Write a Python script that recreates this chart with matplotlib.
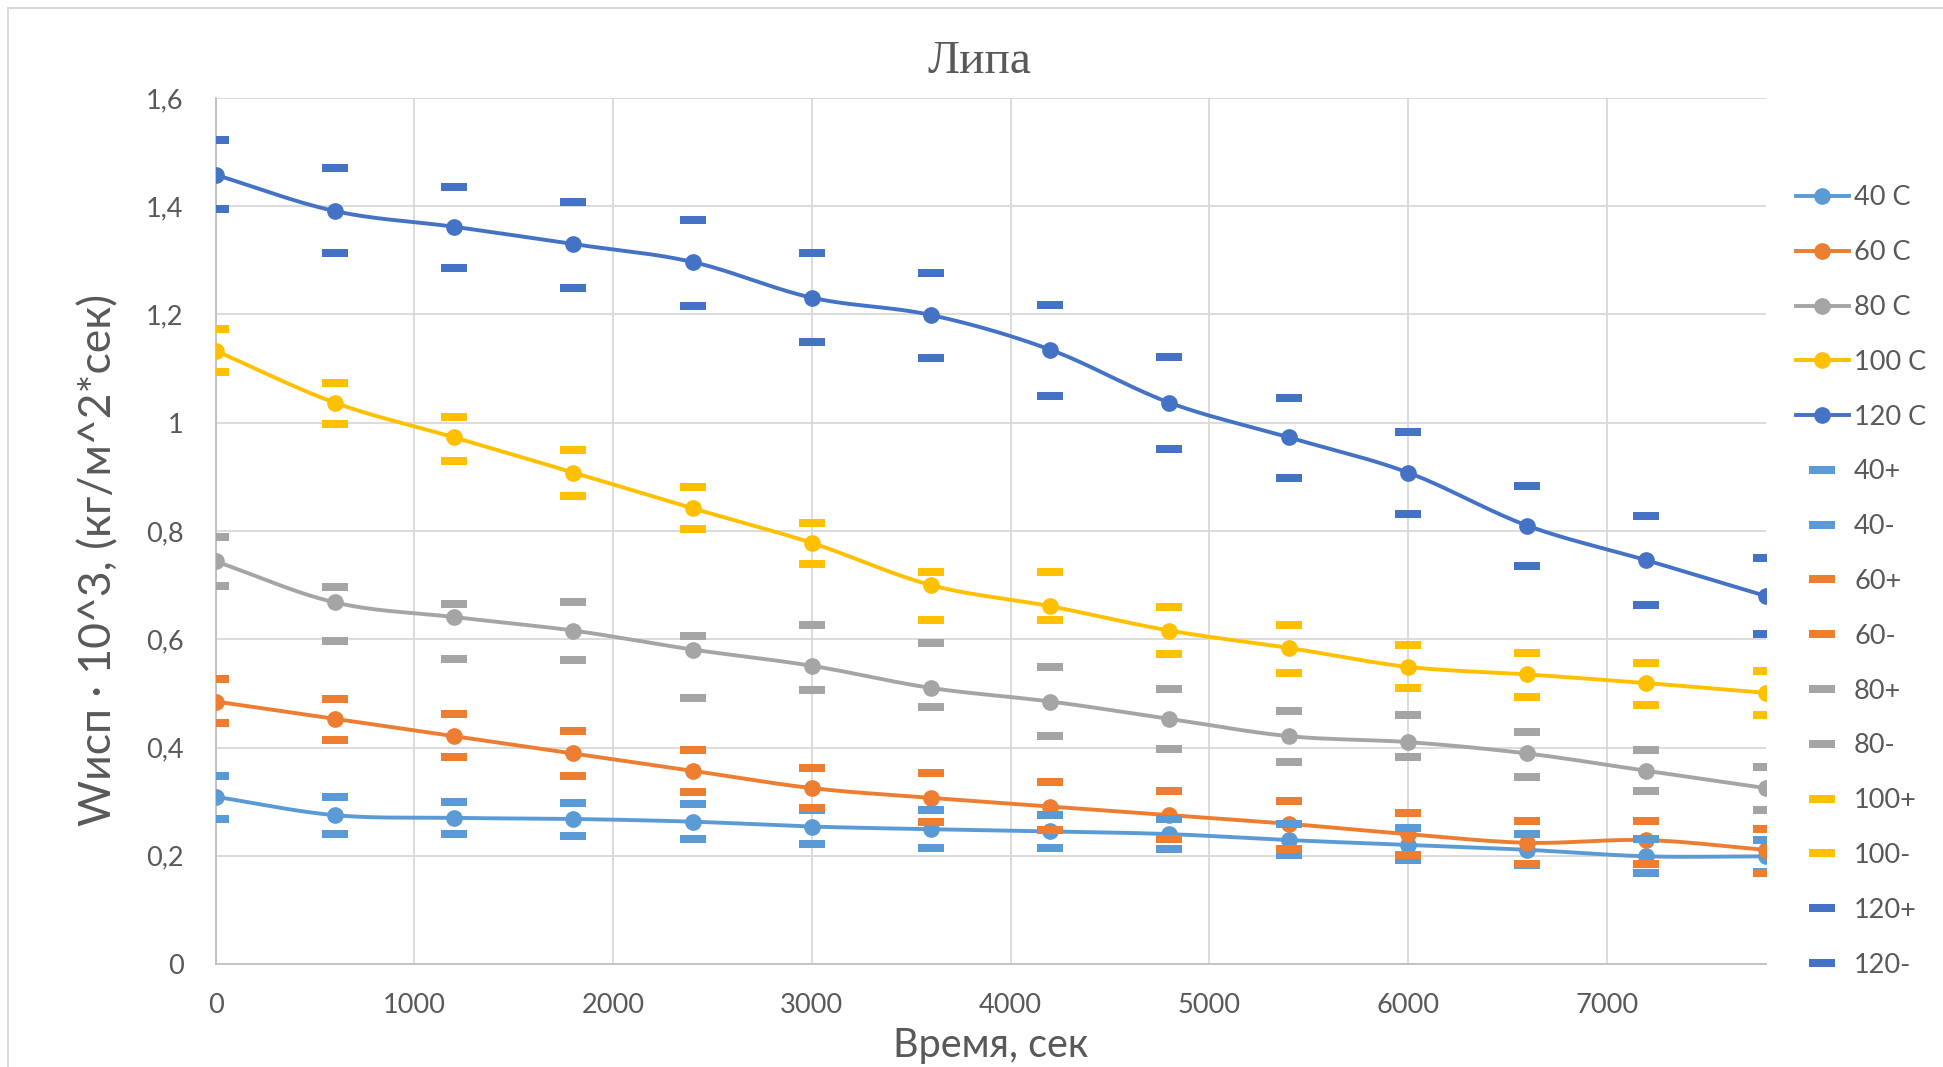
import numpy as np
import matplotlib.pyplot as plt
from matplotlib.patches import Rectangle
from matplotlib.ticker import FuncFormatter

# время, сек
t = [0, 600, 1200, 1800, 2400, 3000, 3600, 4200, 4800, 5400, 6000, 6600, 7200, 7800]

# средние значения
w40 = [0.309, 0.275, 0.270, 0.268, 0.263, 0.254, 0.249, 0.245, 0.240, 0.229, 0.220, 0.211, 0.199, 0.199]
w60 = [0.485, 0.453, 0.421, 0.389, 0.357, 0.325, 0.307, 0.291, 0.275, 0.259, 0.240, 0.224, 0.229, 0.211]
w80 = [0.744, 0.668, 0.641, 0.616, 0.581, 0.551, 0.510, 0.485, 0.453, 0.421, 0.410, 0.389, 0.357, 0.325]
w100 = [1.133, 1.037, 0.973, 0.908, 0.842, 0.778, 0.700, 0.661, 0.616, 0.584, 0.549, 0.535, 0.519, 0.501]
w120 = [1.458, 1.391, 1.362, 1.330, 1.297, 1.231, 1.199, 1.135, 1.037, 0.973, 0.908, 0.810, 0.746, 0.680]

# верхние / нижние границы
w40p = [0.348, 0.309, 0.300, 0.297, 0.295, 0.284, 0.284, 0.275, 0.268, 0.259, 0.252, 0.240, 0.231, 0.229]
w40m = [0.268, 0.240, 0.240, 0.236, 0.231, 0.222, 0.215, 0.215, 0.213, 0.201, 0.192, 0.183, 0.169, 0.170]
w60p = [0.526, 0.490, 0.462, 0.430, 0.396, 0.362, 0.352, 0.336, 0.320, 0.302, 0.279, 0.265, 0.265, 0.249]
w60m = [0.446, 0.414, 0.382, 0.348, 0.318, 0.288, 0.263, 0.247, 0.231, 0.213, 0.201, 0.185, 0.185, 0.169]
w80p = [0.789, 0.696, 0.666, 0.668, 0.606, 0.627, 0.593, 0.549, 0.508, 0.467, 0.460, 0.428, 0.396, 0.364]
w80m = [0.698, 0.597, 0.563, 0.561, 0.492, 0.506, 0.474, 0.421, 0.398, 0.373, 0.382, 0.346, 0.320, 0.284]
w100p = [1.174, 1.073, 1.011, 0.950, 0.881, 0.815, 0.725, 0.725, 0.659, 0.627, 0.590, 0.574, 0.556, 0.542]
w100m = [1.094, 0.998, 0.929, 0.865, 0.803, 0.739, 0.636, 0.636, 0.572, 0.538, 0.510, 0.494, 0.478, 0.460]
w120p = [1.522, 1.471, 1.435, 1.407, 1.375, 1.314, 1.277, 1.217, 1.121, 1.046, 0.982, 0.883, 0.828, 0.751]
w120m = [1.394, 1.314, 1.286, 1.249, 1.215, 1.149, 1.119, 1.050, 0.952, 0.897, 0.831, 0.735, 0.664, 0.609]

main_labels = ['40 C', '60 C', '80 C', '100 C', '120 C']
main_colors = ['#5B9BD5', '#ED7D31', '#A5A5A5', '#FFC000', '#4472C4']
dash_labels = ['40+', '40-', '60+', '60-', '80+', '80-', '100+', '100-', '120+', '120-']


def smooth(x, y, n=20):
    # сглаженная линия как в Excel (Catmull-Rom)
    x = np.asarray(x, float)
    y = np.asarray(y, float)
    px = np.concatenate([[2 * x[0] - x[1]], x, [2 * x[-1] - x[-2]]])
    py = np.concatenate([[2 * y[0] - y[1]], y, [2 * y[-1] - y[-2]]])
    xs, ys = [], []
    s = np.linspace(0, 1, n, endpoint=False)
    for i in range(1, len(px) - 2):
        for arr, out in ((px, xs), (py, ys)):
            p0, p1, p2, p3 = arr[i - 1], arr[i], arr[i + 1], arr[i + 2]
            out.extend(0.5 * (2 * p1 + (-p0 + p2) * s + (2 * p0 - 5 * p1 + 4 * p2 - p3) * s ** 2
                              + (-p0 + 3 * p1 - 3 * p2 + p3) * s ** 3))
    xs.append(x[-1])
    ys.append(y[-1])
    return xs, ys


plt.rcParams['font.family'] = ['Lato', 'DejaVu Sans']
txt = '#595959'

fig = plt.figure(figsize=(19.43, 10.67), dpi=100)
ax = fig.add_axes([0.111, 0.0965, 0.7977, 0.8117])

fig.patches.append(Rectangle((8 / 1943, -0.1), 1.2, 1 - 8 / 1067 + 0.1, transform=fig.transFigure,
                             fill=False, edgecolor='#D9D9D9', linewidth=1.5))

handles = []
for y, lab, c in zip([w40, w60, w80, w100, w120], main_labels, main_colors):
    sx, sy = smooth(t, y)
    ax.plot(sx, sy, color=c, lw=2.8, zorder=3)
    ax.plot(t, y, 'o', color=c, ms=11, zorder=3)
    h, = ax.plot([], [], '-o', color=c, lw=2.8, ms=11)
    handles.append(h)

dash = [(-1.75, -0.5), (1.75, -0.5), (1.75, 0.5), (-1.75, 0.5), (-1.75, -0.5)]
dash_series = [w40p, w40m, w60p, w60m, w80p, w80m, w100p, w100m, w120p, w120m]
for k, (y, lab) in enumerate(zip(dash_series, dash_labels)):
    c = main_colors[k // 2]
    h, = ax.plot(t, y, linestyle='none', marker=dash, ms=19, color=c, mec=c, mew=0, zorder=4)
    handles.append(h)

ax.set_xlim(0, 7800)
ax.set_ylim(0, 1.6)
ax.set_xticks(range(0, 8000, 1000))
ax.set_yticks(np.arange(0, 1.61, 0.2))
ax.yaxis.set_major_formatter(FuncFormatter(lambda v, p: f'{v:.1f}'.replace('.', ',') if v not in (0, 1) else f'{v:.0f}'))
ax.grid(True, color='#D9D9D9', lw=1.3)
ax.set_axisbelow(True)
for s in ['top', 'right']:
    ax.spines[s].set_visible(False)
for s in ['left', 'bottom']:
    ax.spines[s].set_color('#BFBFBF')
    ax.spines[s].set_linewidth(1.3)
ax.tick_params(length=0, labelsize=19.5, labelcolor=txt)
ax.tick_params(axis='x', pad=21)
ax.tick_params(axis='y', pad=23)

fig.text(0.504, 0.9425, 'Липа', fontsize=34, color=txt, family='Liberation Serif', ha='center', va='center')
ax.set_xlabel('Время, сек', fontsize=28.5, color=txt, labelpad=6)
ax.set_ylabel('Wисп · 10^3, (кг/м^2*сек)', fontsize=32, color=txt)
ax.yaxis.set_label_coords(-0.062, 0.467)

ax.legend(handles, main_labels + dash_labels, loc='upper left', bbox_to_anchor=(1.0125, 0.9115),
          frameon=False, fontsize=19.5, labelcolor=txt, handlelength=1.97, handletextpad=0.18,
          labelspacing=1.1, borderaxespad=0, numpoints=1)

fig.savefig('out.png', dpi=100)
